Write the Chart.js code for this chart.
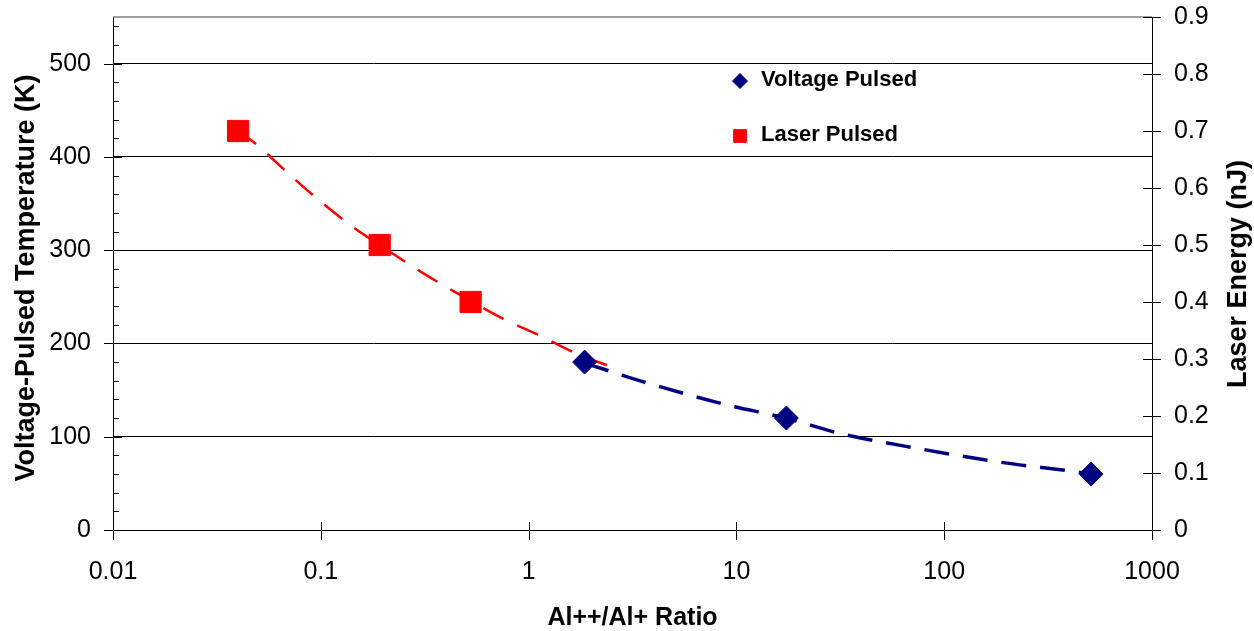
<!DOCTYPE html>
<html>

<head>
    <title>Al++/Al+ Ratio vs Temperature / Laser Energy</title>

    <script src="https://cdn.jsdelivr.net/npm/chart.js"></script>

    <style>
        body {
            margin: 0;
            background: #fff;
        }

        canvas {
            display: block;
        }
    </style>
</head>

<body>
    <canvas id="ratioChart" width="1254" height="631"></canvas>

    <script>
        // ------------- Data -------------
        const voltageRatio = [1.86, 17.4, 509];
        const voltageTemp = [180, 120, 60];            // K, left axis

        const laserRatio = [0.040, 0.192, 0.526];
        const laserEnergy = [0.70, 0.50, 0.40];        // nJ, right axis

        // dashed trend lines, sampled along the drawn curves
        const voltageTrendRatio = [1.86, 3.73, 8.75, 17.4, 32.4, 77.5, 187, 427, 509];
        const voltageTrendTemp = [179, 157.6, 134.8, 119.8, 102.9, 86.8, 72.6, 62.5, 60];

        const laserTrendRatio = [0.040, 0.051, 0.070, 0.097, 0.141, 0.192, 0.316, 0.526, 0.752, 1.15, 1.66, 2.38];
        const laserTrendEnergy = [0.702, 0.671, 0.625, 0.580, 0.533, 0.500, 0.449, 0.402, 0.371, 0.340, 0.311, 0.289];

        const xTickLabels = ['0.01', '0.1', '1', '10', '100', '1000'];
        const seriesNames = ['Voltage Pulsed', 'Laser Pulsed'];

        const NAVY = '#000080';
        const RED = '#ff0000';
        const FONT = "'Liberation Sans', Arial, sans-serif";

        const pts = (xs, ys) => xs.map((x, i) => ({ x: x, y: ys[i] }));

        const isDecade = v => Math.abs(Math.log10(v) - Math.round(Math.log10(v))) < 1e-6;

        // no extra room for labels hanging past the ends of an axis
        const noOverhang = s => {
            s.paddingTop = 0;
            s.paddingBottom = 0;
            s.paddingLeft = 0;
            s.paddingRight = 0;
        };

        // ------------- Extra drawing: ticks, frame, titles, legend -------------
        const decor = {
            id: 'decor',
            afterDraw(chart) {
                const ctx = chart.ctx;
                const area = chart.chartArea;
                const xs = chart.scales.x;
                const ys = chart.scales.y;
                const y1 = chart.scales.y1;

                ctx.save();

                // top frame line
                ctx.strokeStyle = '#808080';
                ctx.lineWidth = 1.5;
                ctx.beginPath();
                ctx.moveTo(area.left, area.top);
                ctx.lineTo(area.right, area.top);
                ctx.stroke();

                ctx.strokeStyle = '#000';
                ctx.lineWidth = 1;
                ctx.beginPath();

                // left axis: major ticks cross, minor ticks every 20 inside
                ys.ticks.forEach(t => {
                    const p = Math.round(ys.getPixelForValue(t.value)) + 0.5;
                    ctx.moveTo(area.left - 9, p);
                    ctx.lineTo(area.left + 9, p);
                });
                for (let v = 20; v < 550; v += 20) {
                    if (v % 100 === 0) continue;
                    const p = Math.round(ys.getPixelForValue(v)) + 0.5;
                    ctx.moveTo(area.left, p);
                    ctx.lineTo(area.left + 6, p);
                }

                // bottom axis: decades cross the axis, minor ticks inside
                xs.ticks.forEach(t => {
                    const p = Math.round(xs.getPixelForValue(t.value)) + 0.5;
                    if (isDecade(t.value)) {
                        ctx.moveTo(p, area.bottom - 8);
                        ctx.lineTo(p, area.bottom + 10);
                    } else {
                        ctx.moveTo(p, area.bottom - 6);
                        ctx.lineTo(p, area.bottom);
                    }
                });

                // right axis ticks
                y1.ticks.forEach(t => {
                    const p = Math.round(y1.getPixelForValue(t.value)) + 0.5;
                    ctx.moveTo(area.right - 9, p);
                    ctx.lineTo(area.right + 9, p);
                });
                ctx.stroke();

                // axis titles
                ctx.fillStyle = '#000';
                ctx.textAlign = 'center';
                ctx.textBaseline = 'middle';

                ctx.font = 'bold 25px ' + FONT;
                ctx.fillText('Al++/Al+ Ratio', (area.left + area.right) / 2, 618);

                ctx.font = 'bold 27px ' + FONT;
                ctx.save();
                ctx.translate(27, 278);
                ctx.rotate(-Math.PI / 2);
                ctx.fillText('Voltage-Pulsed Temperature (K)', 0, 0);
                ctx.restore();

                ctx.save();
                ctx.translate(1239, 274);
                ctx.rotate(-Math.PI / 2);
                ctx.fillText('Laser Energy (nJ)', 0, 0);
                ctx.restore();

                // legend (markers only)
                ctx.font = 'bold 22px ' + FONT;
                ctx.textAlign = 'left';
                const legendItems = [
                    { name: seriesNames[0], style: 'rectRot', r: 7.5, color: NAVY, y: 81 },
                    { name: seriesNames[1], style: 'rect', r: 9, color: RED, y: 136 }
                ];
                legendItems.forEach(item => {
                    ctx.fillStyle = item.color;
                    ctx.strokeStyle = item.color;
                    Chart.helpers.drawPoint(ctx, { pointStyle: item.style, radius: item.r, borderWidth: 1, rotation: 0 }, 740, item.y);
                    ctx.fillStyle = '#000';
                    ctx.fillText(item.name, 761, item.y - 1);
                });

                ctx.restore();
            }
        };

        // ------------- Chart -------------
        const chartCtx = document.getElementById('ratioChart').getContext('2d');
        const ratioChart = new Chart(chartCtx, {
            type: 'scatter',
            data: {
                datasets: [{
                    label: seriesNames[0],
                    data: pts(voltageRatio, voltageTemp),
                    yAxisID: 'y',
                    pointStyle: 'rectRot',
                    pointRadius: 12,
                    backgroundColor: NAVY,
                    borderColor: NAVY,
                    showLine: false
                }, {
                    label: seriesNames[1],
                    data: pts(laserRatio, laserEnergy),
                    yAxisID: 'y1',
                    pointStyle: 'rect',
                    pointRadius: 15,
                    backgroundColor: RED,
                    borderColor: RED,
                    showLine: false
                }, {
                    label: 'Voltage trend',
                    data: pts(voltageTrendRatio, voltageTrendTemp),
                    yAxisID: 'y',
                    showLine: true,
                    pointRadius: 0,
                    borderColor: NAVY,
                    borderWidth: 3.5,
                    borderDash: [25, 14],
                    cubicInterpolationMode: 'monotone',
                    fill: false
                }, {
                    label: 'Laser trend',
                    data: pts(laserTrendRatio, laserTrendEnergy),
                    yAxisID: 'y1',
                    showLine: true,
                    pointRadius: 0,
                    borderColor: RED,
                    borderWidth: 2.5,
                    borderDash: [23, 15],
                    cubicInterpolationMode: 'monotone',
                    fill: false
                }]
            },
            options: {
                responsive: false,
                animation: false,
                layout: {
                    padding: { top: 17, left: 0, right: 0, bottom: 0 }
                },
                scales: {
                    x: {
                        type: 'logarithmic',
                        position: 'bottom',
                        min: 0.01,
                        max: 1000,
                        grid: { display: false, drawTicks: false },
                        border: { display: true, color: '#000', width: 1 },
                        ticks: {
                            autoSkip: false,
                            maxRotation: 0,
                            padding: 27,
                            color: '#000',
                            font: { family: FONT, size: 25 },
                            callback: v => {
                                const lab = xTickLabels.find(s => Math.abs(Number(s) - v) < v * 1e-6);
                                return lab === undefined ? null : lab;
                            }
                        },
                        afterFit: s => { s.height = 101; noOverhang(s); }
                    },
                    y: {
                        type: 'linear',
                        position: 'left',
                        min: 0,
                        max: 550,
                        grid: { color: '#000', lineWidth: 1, drawTicks: false },
                        border: { display: true, color: '#000', width: 1 },
                        ticks: {
                            stepSize: 100,
                            padding: 22,
                            color: '#000',
                            font: { family: FONT, size: 25 }
                        },
                        afterBuildTicks: s => { s.ticks = s.ticks.filter(t => t.value <= 500); },
                        afterFit: s => { s.width = 113; noOverhang(s); }
                    },
                    y1: {
                        type: 'linear',
                        position: 'right',
                        min: 0,
                        max: 0.9,
                        grid: { drawOnChartArea: false, drawTicks: false },
                        border: { display: true, color: '#000', width: 1 },
                        ticks: {
                            stepSize: 0.1,
                            padding: 22,
                            color: '#000',
                            font: { family: FONT, size: 25 },
                            callback: v => v === 0 ? '0' : v.toFixed(1)
                        },
                        afterFit: s => { s.width = 102; noOverhang(s); }
                    }
                },
                plugins: {
                    legend: { display: false },
                    tooltip: { enabled: false }
                }
            },
            plugins: [decor]
        });
    </script>
</body>

</html>
